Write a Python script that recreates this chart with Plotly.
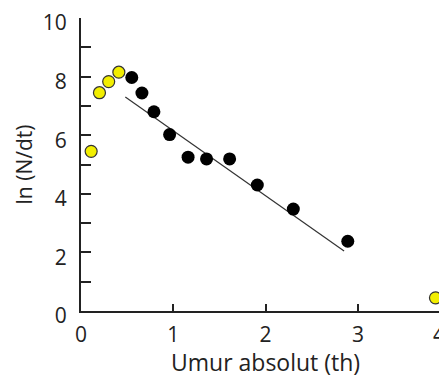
import plotly.graph_objects as go

# Data
yellow_x = [0.11, 0.20, 0.30, 0.41, 3.84]
yellow_y = [5.45, 7.45, 7.83, 8.15, 0.45]
black_x = [0.55, 0.66, 0.79, 0.96, 1.16, 1.36, 1.61, 1.91, 2.30, 2.89]
black_y = [7.97, 7.44, 6.80, 6.02, 5.25, 5.19, 5.19, 4.30, 3.48, 2.38]
fit_x = [0.48, 2.85]
fit_y = [7.30, 2.05]
x_ticks = [0, 1, 2, 3]
y_ticks = [0, 2, 4, 6, 8, 10]
x_title = "Umur absolut (th)"
y_title = "ln (N/dt)"

FONT = "Open Sans"
INK = "#222222"

fig = go.Figure()
fig.add_trace(go.Scatter(x=fit_x, y=fit_y, mode="lines",
                         line=dict(color="#333333", width=1.2),
                         showlegend=False, hoverinfo="skip"))
fig.add_trace(go.Scatter(x=black_x, y=black_y, mode="markers",
                         marker=dict(color="#000000", size=13, symbol="circle",
                                     line=dict(color="#111111", width=0)),
                         showlegend=False, cliponaxis=False))
fig.add_trace(go.Scatter(x=yellow_x, y=yellow_y, mode="markers",
                         marker=dict(color="#f2ee00", size=12, symbol="circle",
                                     line=dict(color="#333333", width=1.2)),
                         showlegend=False, cliponaxis=False))

# The page body has an 8px default margin, so the figure is 8px smaller than the window.
fig.update_layout(
    width=439, height=370,
    margin=dict(l=73, r=0, t=10, b=67),
    paper_bgcolor="white", plot_bgcolor="white",
    font=dict(family=FONT, color=INK, size=21),
    xaxis=dict(range=[0, 3.965], tickvals=x_ticks, ticktext=[str(v) for v in x_ticks],
               automargin=False,
               ticks="inside", ticklen=7, tickwidth=1.5, tickcolor=INK,
               showline=True, linecolor=INK, linewidth=2,
               showgrid=False, zeroline=False, ticklabelstandoff=4,
               tickfont=dict(size=21, family=FONT, color=INK)),
    yaxis=dict(range=[0, 10], tickvals=y_ticks, ticktext=[str(v) for v in y_ticks],
               automargin=False,
               ticks="inside", ticklen=10, tickwidth=1.5, tickcolor=INK,
               minor=dict(dtick=1, tick0=0, ticks="inside", ticklen=10, tickwidth=1.5, tickcolor=INK),
               showline=True, linecolor=INK, linewidth=2,
               showgrid=False, zeroline=False, ticklabelshift=5, ticklabelstandoff=8,
               tickfont=dict(size=21, family=FONT, color=INK),
               title=dict(text=y_title, standoff=4,
                          font=dict(size=21, family=FONT, color=INK))),
    annotations=[
        dict(text="4", xref="paper", yref="paper", x=1, y=0,
             yshift=-7, xanchor="right", yanchor="top", showarrow=False,
             font=dict(size=21, family=FONT, color=INK)),
        dict(text=x_title, xref="paper", yref="paper", x=(265 - 81) / 366, y=0,
             yshift=-51, xanchor="center", yanchor="middle", showarrow=False,
             font=dict(size=23, family=FONT, color=INK)),
    ],
)

fig.write_html("out.html")
